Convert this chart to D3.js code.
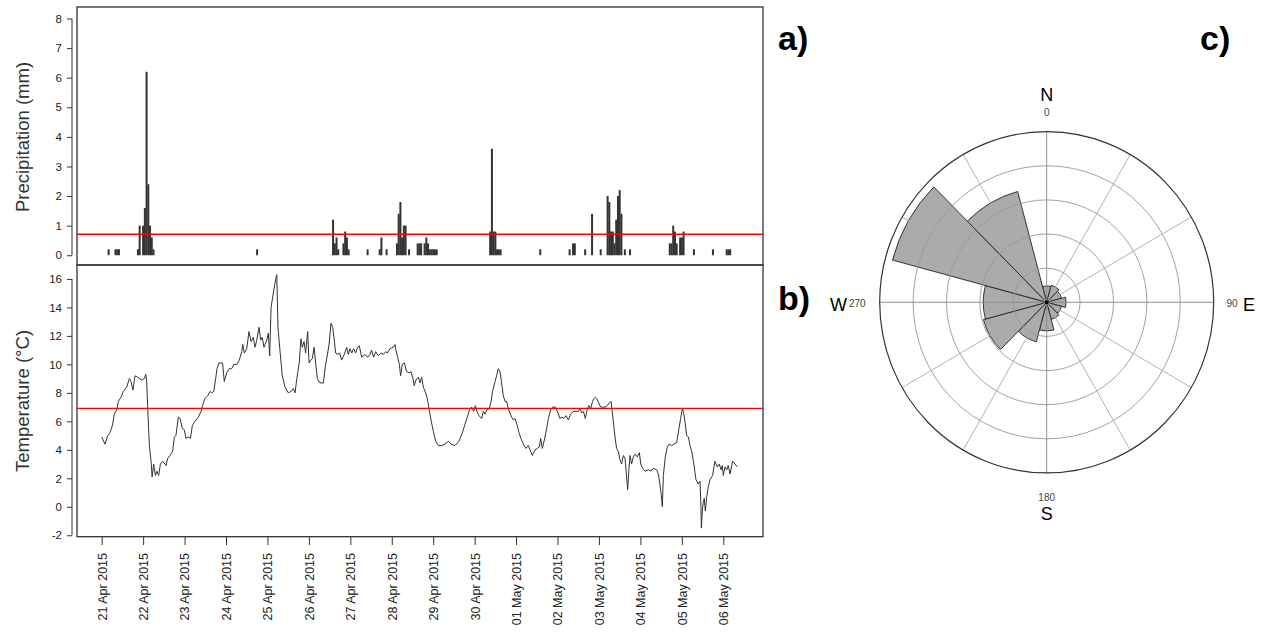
<!DOCTYPE html>
<html>
<head>
<meta charset="utf-8">
<script src="https://cdn.jsdelivr.net/npm/d3@7"></script>
<style>
body { margin: 0; background: #fff; }
svg text { font-family: "Liberation Sans", Arial, sans-serif; }
</style>
</head>
<body>
<script>
// hours since 21 Apr 2015 00:00 (UTC)
var rainHours = [4, 8, 9, 10, 21, 22, 24, 25, 26, 27, 28, 29, 30, 90,
  134, 135, 136, 137, 140, 141, 142, 143, 154, 161, 162, 165,
  171, 172, 173, 174, 175, 176, 178, 183, 184, 185, 187, 188, 189, 190, 191, 192, 193, 194,
  225, 226, 227, 228, 229, 230, 231, 254, 271, 273, 274, 280, 284, 289,
  293, 294, 295, 296, 297, 298, 299, 300, 301, 303, 306,
  329, 330, 331, 332, 333, 335, 336, 337, 343, 354, 362, 363, 364];
var rainMm = [0.2, 0.2, 0.2, 0.2, 0.2, 1.0, 1.0, 1.6, 6.2, 2.4, 1.0, 0.6, 0.2, 0.2,
  1.2, 0.4, 0.6, 0.2, 0.4, 0.8, 0.6, 0.2, 0.2, 0.2, 0.6, 0.2,
  0.4, 1.4, 1.8, 0.6, 1.0, 1.0, 0.2, 0.4, 0.4, 0.4, 0.4, 0.6, 0.4, 0.2, 0.2, 0.2, 0.2, 0.2,
  0.8, 3.6, 0.8, 0.8, 0.2, 0.2, 0.2, 0.2, 0.2, 0.4, 0.4, 0.2, 1.4, 0.2,
  2.0, 1.8, 0.8, 0.8, 0.4, 1.2, 2.0, 2.2, 1.4, 0.2, 0.2,
  0.4, 0.4, 1.0, 0.8, 0.4, 0.6, 0.6, 0.8, 0.2, 0.2, 0.2, 0.2, 0.2];
var rainMean = 0.71;

var tempHours = [0, 1.9, 3.5, 4.8, 6.2, 7.3, 8.7, 9.7, 11.2, 12.5, 14.5, 16, 17, 18.1, 19.3, 20.7, 23.2, 24.7, 25.5, 26,
  26.6, 27.6, 28.6, 29.2, 30.1, 31.1, 32, 33, 34, 35.3, 37.3, 38.2, 39.6, 41.1, 42.1, 43, 44.4, 45.4, 46.7, 47.9,
  48.8, 50.2, 51.4, 52.5, 54, 56, 57.5, 58.9, 59.8, 61.4, 62.7, 63.7, 64.9, 66, 66.8, 67.9, 70, 71, 72.4, 73.9,
  75.3, 76.6, 78.2, 79.7, 81.1, 81.7, 82.6, 84, 85.3, 86.5, 87.8, 88.8, 89.8, 91.1, 92.1, 93, 94, 95.6, 96.5, 97.3,
  98.1, 99.4, 100.8, 101.4, 102.1, 103.3, 104.6, 106.2, 108.1, 109.7, 111, 112, 113, 114.4, 115.4, 116.2, 117.2,
  118.1, 119.3, 120.1, 121, 122, 123, 123.9, 124.9, 126.4, 128.4, 129.7, 130.9, 131.8, 132.8, 133.8, 134.7, 135.5,
  136.7, 137.8, 139, 140.5, 141.9, 142.8, 143.8, 144.8, 145.9, 147.1, 148.2, 149.2, 150.6, 152.5, 154, 155.4, 156.3,
  157.5, 158.7, 160.2, 161.8, 163.1, 164.5, 165.4, 167, 168.9, 169.9, 170.2, 171.4, 172.4, 173.1, 174.1, 175.3,
  176.6, 178, 179.1, 180.5, 181, 182, 183.4, 184.3, 185.3, 186.3, 187.6, 188.6, 189.6, 190.7, 192.1, 193.4, 195,
  196.9, 198.8, 200.8, 202.3, 204.6, 206.9, 208.9, 210.4, 211.8, 212.9, 214.3, 215.4, 216.4, 217.4, 218.5, 220.1,
  221, 222, 223, 224.5, 225.5, 226.4, 227.8, 228.7, 229.7, 230.7, 231.6, 232.6, 233.6, 234.5, 235.5, 237.4, 238.4,
  239.4, 240.7, 241.7, 242.8, 244.6, 245.7, 247.1, 248.1, 249.4, 251, 252.3, 253.5, 254.2, 255.2, 256.4, 257.7,
  258.7, 260, 261.2, 262.7, 263.9, 265.4, 266.6, 267.7, 268.9, 270.3, 271.6, 273.1, 274.7, 276.1, 277, 278, 279,
  280.1, 281.3, 282.2, 283.2, 284.3, 285.1, 285.9, 286.7, 287.8, 289, 290.1, 291.5, 292.8, 294, 295, 295.5, 296.3,
  297.3, 298.2, 299.2, 300.2, 301.1, 302.1, 303.1, 304, 304.6, 305.4, 306, 306.9, 307.9, 309, 310.2, 311.4, 312.2,
  313.3, 314.7, 316.6, 318.1, 319.5, 321.4, 322.4, 323.3, 324.1, 324.7, 325.3, 326.4, 327.6, 328.7, 330.1, 331.4,
  333, 334.2, 335.3, 336.3, 336.9, 337.8, 338.8, 339.8, 340.7, 341.7, 342.7, 344.2, 345.5, 346.5, 347.1, 347.3,
  347.9, 348.4, 349, 349.6, 350.4, 351.3, 352.3, 353.8, 355.2, 356.5, 357.7, 358.7, 359.4, 360, 361, 362, 362.9,
  363.9, 365.4, 366.8, 368.1];
var tempC = [4.9, 4.4, 5.0, 5.2, 5.7, 6.5, 6.8, 7.4, 7.7, 8.1, 8.4, 9.0, 8.8, 8.2, 9.2, 9.1, 8.9, 9.0, 9.3, 8.9,
  7.1, 4.3, 3.2, 2.1, 3.0, 2.2, 2.5, 2.2, 3.0, 3.2, 2.9, 3.4, 3.6, 3.9, 4.9, 5.0, 6.3, 6.2, 5.5, 5.4,
  4.8, 4.9, 4.8, 5.7, 6.0, 6.3, 6.7, 7.3, 7.6, 7.8, 8.1, 8.0, 8.1, 9.0, 9.7, 10.1, 10.1, 8.8, 9.4, 9.7,
  9.7, 10.0, 10.0, 10.3, 10.9, 11.4, 10.8, 11.1, 12.3, 11.6, 11.9, 11.2, 11.7, 12.6, 11.7, 11.9, 11.2, 11.7, 12.2, 10.6,
  14.0, 15.0, 16.0, 16.3, 12.6, 10.9, 9.2, 8.4, 8.0, 8.1, 8.3, 8.0, 9.0, 10.1, 11.8, 11.2, 11.6,
  10.8, 12.3, 10.1, 10.3, 10.4, 11.2, 10.1, 9.0, 8.7, 8.7, 10.0, 10.8, 11.5, 12.9, 12.6, 11.7, 10.8,
  10.7, 10.8, 10.3, 10.7, 11.2, 10.7, 11.1, 10.8, 11.1, 10.8, 11.2, 11.3, 10.5, 10.7, 10.5, 10.7, 11.0,
  10.5, 10.9, 10.6, 10.8, 10.7, 10.9, 10.8, 11.1, 11.2, 11.4, 11.1, 10.5, 10.0, 9.2, 10.0, 10.1,
  9.5, 9.4, 9.5, 8.9, 8.5, 8.9, 9.1, 8.7, 9.1, 8.4, 8.0, 7.6, 6.9, 6.1, 5.3, 4.6, 4.3,
  4.3, 4.4, 4.6, 4.4, 4.3, 4.6, 5.2, 5.8, 6.3, 6.8, 7.0, 6.7, 7.1, 6.7, 6.4, 6.2,
  6.7, 6.5, 6.8, 6.9, 7.4, 8.1, 8.8, 9.2, 9.7, 9.5, 8.7, 7.8, 7.4, 7.4, 6.9, 6.3, 6.1,
  6.2, 5.7, 5.2, 4.8, 4.3, 4.1, 4.3, 4.0, 3.6, 4.0, 4.1, 4.2, 4.8, 4.1, 4.7, 5.5,
  6.2, 6.8, 7.0, 7.0, 6.7, 6.2, 6.3, 6.2, 6.4, 6.1, 6.5, 6.7, 6.7, 6.7, 6.9, 6.6, 6.7,
  6.2, 6.9, 7.1, 6.9, 7.4, 7.6, 7.7, 7.6, 7.3, 7.0, 7.0, 7.0, 7.1, 7.3, 7.4, 6.9, 6.0,
  4.9, 4.1, 3.9, 3.3, 3.0, 3.6, 3.4, 2.1, 1.2, 2.7, 3.6, 3.0, 3.5, 3.7, 3.5, 3.8, 3.0,
  2.7, 2.5, 2.6, 2.5, 2.7, 2.6, 2.3, 1.6, 0.8, 0.0, 2.2, 3.5, 4.2, 4.4, 4.3, 4.4,
  4.5, 5.4, 6.2, 6.9, 6.7, 6.0, 5.0, 4.9, 4.3, 3.9, 3.2, 1.9, 1.6, 1.8, -0.1, -1.5,
  -0.2, 0.3, 0.6, -0.3, 0.7, 1.4, 1.9, 2.2, 3.2, 2.8, 3.0, 2.6, 2.9, 2.2, 2.8, 2.6, 2.9,
  2.3, 3.2, 3.0, 2.8];
var tempMean = 6.91;

var rainTicks = [0, 1, 2, 3, 4, 5, 6, 7, 8];
var tempTicks = [-2, 0, 2, 4, 6, 8, 10, 12, 14, 16];

// wind rose: sector centre (deg from north) and frequency (%)
var roseDir = [0, 30, 60, 90, 120, 150, 180, 210, 240, 270, 300, 330];
var roseFreq = [2.4, 2.6, 2.3, 2.9, 2.3, 2.6, 4.2, 6.0, 9.8, 9.5, 23.9, 16.8];
var roseRings = [5, 10, 15, 20];
var compassText = ["N", "E", "S", "W"];
var compassDeg = ["0", "90", "180", "270"];

var svg = d3.select("body").append("svg")
    .attr("width", 1266)
    .attr("height", 634);

var t0 = Date.UTC(2015, 3, 21);
var HR = 3600 * 1000;
var x = d3.scaleUtc()
    .domain([new Date(t0 - 14.3 * HR), new Date(t0 + 383 * HR)])
    .range([77, 763]);
var yRain = d3.scaleLinear().domain([-0.33, 8.39]).range([265, 7]);
var yTemp = d3.scaleLinear().domain([-2.1, 17.0]).range([536.7, 264.7]);

var ink = "#333";

// ---- a) precipitation
svg.selectAll(".bar")
    .data(rainHours)
    .enter().append("rect")
    .attr("class", "bar")
    .attr("x", function (d) { return x(new Date(t0 + d * HR)) - 1; })
    .attr("width", 2)
    .attr("y", function (d, i) { return yRain(rainMm[i]); })
    .attr("height", function (d, i) { return yRain(0) - yRain(rainMm[i]); })
    .attr("fill", ink);

svg.append("line")
    .attr("x1", 77).attr("x2", 763)
    .attr("y1", yRain(rainMean)).attr("y2", yRain(rainMean))
    .style("stroke", "red")
    .style("stroke-width", 1.3);

// ---- b) temperature
var line = d3.line()
    .x(function (d) { return x(new Date(t0 + d * HR)); })
    .y(function (d, i) { return yTemp(tempC[i]); });

svg.append("path")
    .attr("d", line(tempHours))
    .attr("fill", "none")
    .style("stroke", ink)
    .style("stroke-width", 1);

svg.append("line")
    .attr("x1", 77).attr("x2", 763)
    .attr("y1", yTemp(tempMean)).attr("y2", yTemp(tempMean))
    .style("stroke", "red")
    .style("stroke-width", 1.3);

// frames
svg.append("rect").attr("x", 77).attr("y", 7).attr("width", 686).attr("height", 258)
    .attr("fill", "none").style("stroke", ink).style("stroke-width", 1.3);
svg.append("rect").attr("x", 77).attr("y", 265).attr("width", 686).attr("height", 271.7)
    .attr("fill", "none").style("stroke", ink).style("stroke-width", 1.3);

// axes
function styleAxis(g) {
    g.select(".domain").style("stroke", ink);
    g.selectAll(".tick line").style("stroke", ink);
    g.selectAll(".tick text").style("font-size", "11.5px").attr("fill", "#222");
}
var plain = function (d) { return String(d); };

svg.append("g")
    .attr("transform", "translate(72,0)")
    .call(d3.axisLeft(yRain).tickValues(rainTicks).tickFormat(plain).tickSize(5).tickPadding(5).tickSizeOuter(0))
    .call(styleAxis)
    .call(function (g) { g.select(".domain").attr("d", "M0," + yRain(8) + "V" + yRain(0)); });

svg.append("g")
    .attr("transform", "translate(72,0)")
    .call(d3.axisLeft(yTemp).tickValues(tempTicks).tickFormat(plain).tickSize(5).tickPadding(5).tickSizeOuter(0))
    .call(styleAxis)
    .call(function (g) { g.select(".domain").attr("d", "M0," + yTemp(-2) + "V" + yTemp(16)); });

var days = d3.utcDay.range(new Date(t0), new Date(t0 + 361 * HR));
var xAxis = svg.append("g")
    .attr("transform", "translate(0,537)")
    .call(d3.axisBottom(x).tickValues(days).tickSize(8).tickSizeOuter(0)
        .tickFormat(d3.utcFormat("%d %b %Y")));
xAxis.select(".domain").remove();
xAxis.selectAll(".tick line").style("stroke", ink);
xAxis.selectAll(".tick text")
    .style("font-size", "12.5px")
    .attr("fill", "#222")
    .attr("text-anchor", "end")
    .attr("transform", "rotate(-90)")
    .attr("x", -16)
    .attr("y", 0)
    .attr("dy", "0.35em");

// axis titles
svg.append("text")
    .attr("transform", "translate(29,137) rotate(-90)")
    .attr("text-anchor", "middle")
    .style("font-size", "18.5px")
    .attr("fill", "#333")
    .text("Precipitation (mm)");

svg.append("text")
    .attr("transform", "translate(29,401) rotate(-90)")
    .attr("text-anchor", "middle")
    .style("font-size", "18.5px")
    .attr("fill", "#333")
    .text("Temperature (°C)");

// panel letters
[["a)", 778, 50], ["b)", 778, 310], ["c)", 1200, 50]].forEach(function (p) {
    svg.append("text")
        .attr("x", p[1]).attr("y", p[2])
        .style("font-size", "34px")
        .style("font-weight", "bold")
        .attr("fill", "#000")
        .text(p[0]);
});

// ---- c) wind rose
var cx = 1046.7, cy = 302.3;
var r = d3.scaleLinear().domain([0, 25]).range([0, 167]);
var rose = svg.append("g")
    .attr("transform", "translate(" + cx + "," + cy + ") scale(1,1.022)");

var arc = d3.arc()
    .innerRadius(0)
    .outerRadius(function (d, i) { return r(roseFreq[i]); })
    .startAngle(function (d) { return (d - 15) * Math.PI / 180; })
    .endAngle(function (d) { return (d + 15) * Math.PI / 180; });

rose.selectAll(".petal")
    .data(roseDir)
    .enter().append("path")
    .attr("class", "petal")
    .attr("d", arc)
    .attr("fill", "#ababab")
    .attr("vector-effect", "non-scaling-stroke")
    .style("stroke", "#222")
    .style("stroke-width", 0.9);

rose.selectAll(".ring")
    .data(roseRings)
    .enter().append("circle")
    .attr("r", function (d) { return r(d); })
    .attr("fill", "none")
    .attr("vector-effect", "non-scaling-stroke")
    .style("stroke", "#999")
    .style("stroke-width", 0.9);

rose.selectAll(".spoke")
    .data(roseDir)
    .enter().append("line")
    .attr("x1", 0).attr("y1", 0)
    .attr("x2", function (d) { return r(25) * Math.sin(d * Math.PI / 180); })
    .attr("y2", function (d) { return -r(25) * Math.cos(d * Math.PI / 180); })
    .attr("vector-effect", "non-scaling-stroke")
    .style("stroke", function (d) { return d % 90 === 0 ? "#888" : "#aaa"; })
    .style("stroke-width", 0.9);

rose.append("circle")
    .attr("r", r(25))
    .attr("fill", "none")
    .attr("vector-effect", "non-scaling-stroke")
    .style("stroke", ink)
    .style("stroke-width", 1.2);

rose.append("circle").attr("r", 2).attr("fill", "#000");

// compass labels
svg.append("text").attr("x", cx).attr("y", 101).attr("text-anchor", "middle")
    .style("font-size", "18px").text(compassText[0]);
svg.append("text").attr("x", cx).attr("y", 116).attr("text-anchor", "middle")
    .style("font-size", "10px").attr("fill", "#444").text(compassDeg[0]);
svg.append("text").attr("x", cx).attr("y", 501).attr("text-anchor", "middle")
    .style("font-size", "10px").attr("fill", "#444").text(compassDeg[2]);
svg.append("text").attr("x", cx).attr("y", 519.5).attr("text-anchor", "middle")
    .style("font-size", "18px").text(compassText[2]);
svg.append("text").attr("x", 847).attr("y", 310.7).attr("text-anchor", "end")
    .style("font-size", "18px").text(compassText[3]);
svg.append("text").attr("x", 849).attr("y", 307).attr("text-anchor", "start")
    .style("font-size", "10px").attr("fill", "#444").text(compassDeg[3]);
svg.append("text").attr("x", 1237.5).attr("y", 307).attr("text-anchor", "end")
    .style("font-size", "10px").attr("fill", "#444").text(compassDeg[1]);
svg.append("text").attr("x", 1243).attr("y", 310.7).attr("text-anchor", "start")
    .style("font-size", "18px").text(compassText[1]);
</script>
</body>
</html>
